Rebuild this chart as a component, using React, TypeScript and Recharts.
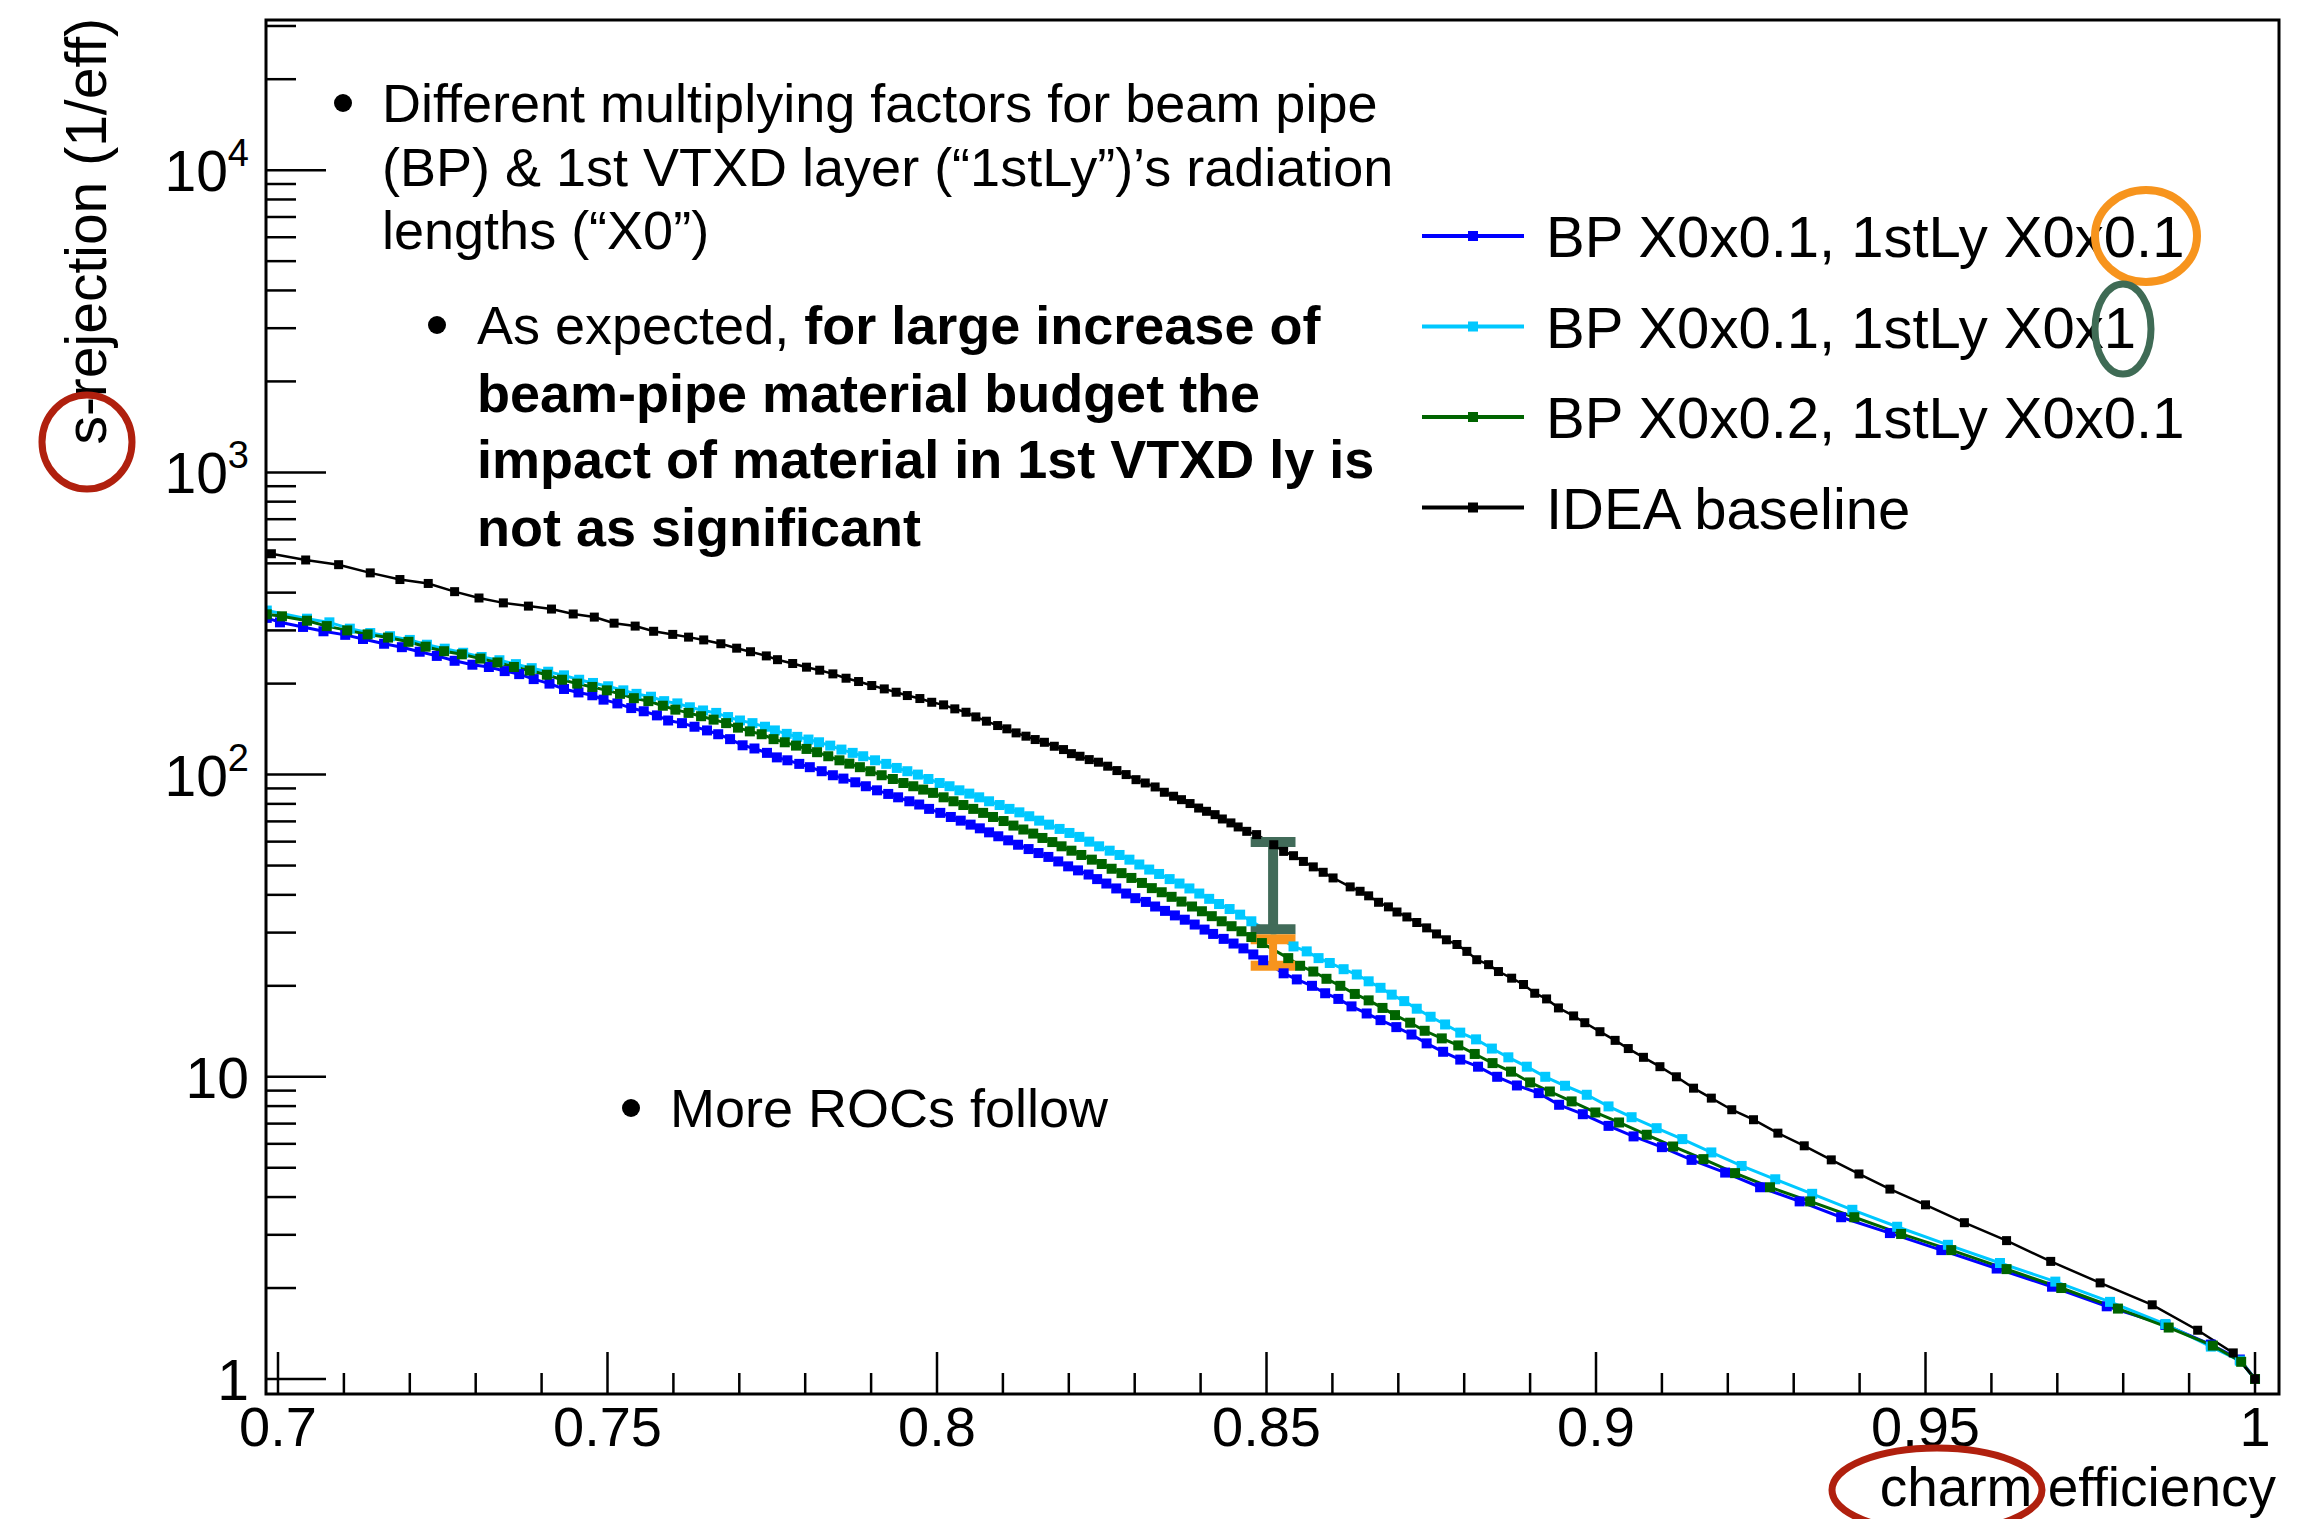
import React from "react";
import { LineChart, Line, XAxis, YAxis, Legend, ReferenceLine } from "recharts";

const W = 2316;
const H = 1519;
const FONT = "'Liberation Sans', Arial, Helvetica, sans-serif";

// ---- data (charm efficiency vs s-rejection) ----
const bp01Ly01Eff = [
  0.6983, 0.7003, 0.7038, 0.7069, 0.7102, 0.7129, 0.7161, 0.7188, 0.7215, 0.7241, 0.7268, 0.7295, 0.732,
  0.7344, 0.7366, 0.7388, 0.7412, 0.7434, 0.7456, 0.7477, 0.7494, 0.7515, 0.7536, 0.7555, 0.7575, 0.7592,
  0.7613, 0.7632, 0.7651, 0.7668, 0.7686, 0.7705, 0.7723, 0.7742, 0.7757, 0.7773, 0.7791, 0.7807, 0.7825,
  0.7842, 0.7858, 0.7876, 0.7892, 0.7909, 0.7926, 0.7941, 0.7958, 0.7973, 0.7988, 0.8005, 0.8021, 0.8036,
  0.8051, 0.8065, 0.8079, 0.8093, 0.8108, 0.8123, 0.8139, 0.8154, 0.8169, 0.8184, 0.8199, 0.8214, 0.823,
  0.8243, 0.8257, 0.8272, 0.8287, 0.8301, 0.8317, 0.8331, 0.8346, 0.8361, 0.8376, 0.8391, 0.8406, 0.8419,
  0.8435, 0.845, 0.8465, 0.848, 0.8495, 0.8526, 0.8546, 0.8569, 0.8589, 0.8609, 0.8629, 0.8652, 0.8673,
  0.8697, 0.872, 0.8743, 0.8768, 0.8794, 0.8821, 0.885, 0.888, 0.8913, 0.8944, 0.898, 0.9019, 0.9057, 0.91,
  0.9145, 0.9196, 0.9249, 0.9309, 0.9372, 0.9446, 0.9524, 0.9608, 0.9692, 0.9775, 0.9864, 0.9933, 0.9977, 1.0,
];
const bp01Ly01Rej = [
  330, 319, 308, 298, 290, 281, 271, 264, 255, 247, 238, 231, 227,
  220, 215, 207, 200, 192, 187, 183, 177, 172, 166, 162, 157, 151,
  148, 144, 140, 136, 131, 125, 122, 118, 114, 111.5, 108.5, 105.8, 102.6,
  99.5, 97.0, 94.3, 91.5, 88.7, 86.3, 84.1, 81.6, 79.6, 77.0, 74.7, 72.4, 70.4,
  68.3, 66.4, 64.4, 62.5, 60.6, 58.6, 56.7, 55.0, 53.4, 51.6, 49.7, 48.2, 46.7,
  45.1, 43.6, 42.0, 40.4, 39.0, 37.9, 36.6, 35.4, 34.2, 33.1, 31.9, 30.7, 29.7,
  28.6, 27.6, 26.6, 25.4, 24.3, 22.0, 21.0, 20.0, 18.9, 18.1, 17.1, 16.2, 15.4,
  14.6, 13.8, 12.9, 12.1, 11.4, 10.8, 10.0, 9.36, 8.83, 8.08, 7.52, 6.88, 6.35, 5.85,
  5.31, 4.82, 4.31, 3.87, 3.43, 3.04, 2.67, 2.32, 2.02, 1.74, 1.51, 1.3, 1.16, 1.0,
];

const bp01Ly1Eff = [
  0.6983, 0.7044, 0.7078, 0.7109, 0.714, 0.717, 0.72, 0.7226, 0.7253, 0.7281, 0.7309, 0.7336, 0.7361,
  0.7385, 0.741, 0.7434, 0.7457, 0.7478, 0.7501, 0.7524, 0.7544, 0.7566, 0.7586, 0.7606, 0.7625, 0.7645,
  0.7665, 0.7683, 0.7701, 0.772, 0.7739, 0.7754, 0.7772, 0.7788, 0.7805, 0.7821, 0.7838, 0.7855, 0.7872,
  0.7888, 0.7906, 0.7923, 0.7939, 0.7955, 0.7971, 0.7987, 0.8004, 0.8019, 0.8034, 0.8049, 0.8064, 0.8079,
  0.8095, 0.811, 0.8125, 0.814, 0.8155, 0.817, 0.8186, 0.8201, 0.8216, 0.8231, 0.8246, 0.8262, 0.8277,
  0.8292, 0.8307, 0.8322, 0.8337, 0.8353, 0.8368, 0.8383, 0.8398, 0.8413, 0.8428, 0.8444, 0.846, 0.8477,
  0.8541, 0.8561, 0.8579, 0.8596, 0.8617, 0.8637, 0.8655, 0.8673, 0.869, 0.8709, 0.8728, 0.8749, 0.8771,
  0.8794, 0.8818, 0.8842, 0.8867, 0.8895, 0.8923, 0.8953, 0.8986, 0.9019, 0.9054, 0.9092, 0.9131, 0.9175,
  0.9221, 0.9272, 0.9328, 0.9389, 0.9457, 0.9534, 0.9613, 0.9697, 0.978, 0.9864, 0.9933, 0.9977, 1.0,
];
const bp01Ly1Rej = [
  349, 328, 319, 304, 294, 287, 279, 269, 261, 253, 245, 239, 232,
  225, 219, 213, 206, 201, 196, 190, 185, 181, 175, 172, 167, 163,
  160, 155, 151, 148, 144, 140, 136.4, 133.3, 130.6, 127.9, 124.7, 121.0, 118.0,
  115.0, 111.5, 108.5, 105.2, 102.6, 100.0, 96.7, 93.8, 91.5, 88.7, 86.5, 84.1, 81.6,
  79.3, 77.0, 75.0, 72.8, 70.4, 68.3, 66.1, 64.1, 62.2, 60.0, 57.9, 56.0, 54.2,
  52.3, 50.4, 48.5, 46.9, 45.1, 43.6, 42.0, 40.4, 38.8, 37.3, 35.9, 34.4, 32.7,
  27.0, 26.0, 24.7, 23.8, 22.7, 21.8, 20.7, 19.7, 18.7, 17.8, 16.8, 15.8, 14.9,
  14.0, 13.3, 12.4, 11.6, 10.8, 10.0, 9.34, 8.72, 7.98, 7.35, 6.76, 6.22, 5.62,
  5.07, 4.58, 4.1, 3.63, 3.19, 2.78, 2.42, 2.1, 1.8, 1.52, 1.28, 1.15, 1.0,
];

const bp02Ly01Eff = [
  0.6983, 0.7006, 0.7044, 0.7074, 0.7105, 0.7136, 0.7167, 0.7198, 0.7224, 0.7252, 0.7279, 0.7307, 0.7333,
  0.7358, 0.7382, 0.7408, 0.7431, 0.7454, 0.7477, 0.7499, 0.7519, 0.754, 0.7562, 0.7584, 0.7603, 0.7623,
  0.7642, 0.7661, 0.768, 0.7698, 0.7716, 0.7734, 0.7752, 0.7769, 0.7786, 0.7802, 0.7818, 0.7835, 0.7852,
  0.7867, 0.7883, 0.7899, 0.7916, 0.7933, 0.7949, 0.7964, 0.7979, 0.7994, 0.801, 0.8025, 0.804, 0.8055,
  0.807, 0.8085, 0.8101, 0.8116, 0.8131, 0.8146, 0.816, 0.8175, 0.8189, 0.8204, 0.8219, 0.8235, 0.825,
  0.8265, 0.828, 0.8295, 0.8311, 0.8326, 0.8341, 0.8356, 0.8371, 0.8387, 0.8402, 0.8417, 0.8432, 0.8447,
  0.8462, 0.8477, 0.8493, 0.8533, 0.8551, 0.8571, 0.8591, 0.8612, 0.8634, 0.8655, 0.8676, 0.8695, 0.8718,
  0.874, 0.8766, 0.8791, 0.8816, 0.8843, 0.8871, 0.89, 0.893, 0.8963, 0.8999, 0.9035, 0.9077, 0.9117,
  0.9163, 0.9211, 0.9264, 0.9325, 0.9392, 0.9463, 0.9539, 0.9623, 0.9706, 0.9792, 0.9869, 0.9936, 0.9979, 1.0,
];
const bp02Ly01Rej = [
  339, 334, 323, 310, 300, 291, 284, 275, 265, 256, 250, 242, 235,
  227, 221, 214, 206, 200, 195, 190, 185, 179, 175, 169, 164, 160,
  156, 152, 148, 143, 139, 136, 131, 127.9, 124.7, 121.6, 118.6, 115.0, 111.5,
  108.7, 105.8, 102.6, 99.5, 96.7, 93.8, 91.5, 89.2, 87.0, 84.1, 81.6, 79.3, 77.0,
  74.7, 72.4, 70.2, 67.8, 65.8, 63.8, 61.7, 59.8, 57.9, 56.0, 54.2, 52.3, 50.6,
  48.8, 47.2, 45.5, 43.8, 42.1, 40.8, 39.4, 38.0, 36.6, 35.3, 34.0, 32.7, 31.5,
  30.3, 29.0, 27.7, 24.7, 23.3, 22.3, 21.1, 20.0, 18.8, 17.9, 16.9, 16.0, 15.1,
  14.2, 13.4, 12.7, 11.9, 11.1, 10.4, 9.58, 8.94, 8.29, 7.62, 7.06, 6.43, 5.88,
  5.34, 4.8, 4.31, 3.87, 3.43, 3.02, 2.67, 2.31, 2.0, 1.71, 1.48, 1.29, 1.14, 1.0,
];

const ideaEff = [
  0.699, 0.7042, 0.7092, 0.714, 0.7185, 0.7228, 0.7268, 0.7305, 0.7342, 0.738, 0.7415, 0.7448, 0.748,
  0.751, 0.7542, 0.757, 0.7599, 0.7623, 0.7646, 0.7672, 0.7696, 0.7717, 0.7741, 0.7758, 0.7781, 0.7802,
  0.7822, 0.7842, 0.7862, 0.7881, 0.7901, 0.792, 0.7938, 0.7955, 0.7974, 0.7992, 0.801, 0.8027, 0.8044,
  0.8059, 0.8075, 0.8092, 0.8106, 0.812, 0.8135, 0.8149, 0.8163, 0.8178, 0.8192, 0.8204, 0.8217, 0.8231,
  0.8245, 0.8259, 0.8273, 0.8287, 0.8302, 0.8316, 0.8331, 0.8345, 0.8359, 0.8371, 0.8384, 0.8397, 0.8409,
  0.8422, 0.8433, 0.8446, 0.8457, 0.847, 0.8485, 0.8511, 0.8526, 0.8541, 0.8556, 0.8571, 0.8586, 0.8601,
  0.8627, 0.8642, 0.8655, 0.867, 0.8685, 0.8698, 0.8713, 0.8728, 0.8743, 0.8758, 0.8773, 0.8789, 0.8804,
  0.8819, 0.8837, 0.8852, 0.8872, 0.889, 0.8907, 0.8925, 0.8943, 0.8966, 0.8983, 0.9006, 0.9029, 0.9049,
  0.9072, 0.9097, 0.9122, 0.9148, 0.9175, 0.9206, 0.9239, 0.9276, 0.9316, 0.9357, 0.9399, 0.9446, 0.95,
  0.9559, 0.9623, 0.969, 0.9765, 0.9844, 0.9913, 0.9967, 1.0,
];
const ideaRej = [
  538, 513, 495, 465, 442, 429, 403, 384, 370, 361, 353, 340, 332,
  317, 310, 298, 291, 285, 279, 271, 262, 255, 247, 240, 233.1, 226.7,
  221.5, 215.4, 208.4, 203.2, 197.1, 192.1, 187.3, 182.6, 178.5, 173.5, 170.1, 165.0, 160.8,
  155.2, 150.2, 145.3, 141.7, 137.4, 134.0, 130.6, 127.9, 124.1, 121.0, 117.3, 115.0, 112.1,
  109.9, 106.6, 103.1, 100.0, 96.2, 93.8, 91.0, 87.4, 84.8, 82.6, 80.2, 77.5, 75.6,
  73.7, 71.3, 69.2, 67.1, 64.9, 63.3, 58.6, 55.7, 53.9, 51.6, 49.5, 47.5, 45.5,
  42.5, 41.1, 39.7, 37.8, 36.5, 35.1, 33.8, 32.4, 31.1, 29.7, 28.4, 27.4, 26.0,
  24.4, 23.5, 22.3, 21.2, 20.2, 18.9, 18.1, 16.9, 15.9, 15.1, 14.1, 13.2, 12.4,
  11.6, 10.8, 10.0, 9.17, 8.5, 7.78, 7.21, 6.51, 5.91, 5.31, 4.77, 4.25, 3.77,
  3.29, 2.87, 2.45, 2.08, 1.76, 1.45, 1.22, 1.0,
];

const seriesNames = [
  "BP X0x0.1, 1stLy X0x0.1",
  "BP X0x0.1, 1stLy X0x1",
  "BP X0x0.2, 1stLy X0x0.1",
  "IDEA baseline",
];
const seriesColors = ["#0000ff", "#00c8ff", "#006400", "#000000"];

// axis ticks and labels
const xTicks = [
  0.7, 0.71, 0.72, 0.73, 0.74, 0.75, 0.76, 0.77, 0.78, 0.79, 0.8, 0.81, 0.82, 0.83, 0.84, 0.85,
  0.86, 0.87, 0.88, 0.89, 0.9, 0.91, 0.92, 0.93, 0.94, 0.95, 0.96, 0.97, 0.98, 0.99, 1.0,
];
const xMajorTicks = [0.7, 0.75, 0.8, 0.85, 0.9, 0.95, 1.0];
const xTickLabels = ["0.7", "0.75", "0.8", "0.85", "0.9", "0.95", "1"];
const yMajorTicks = [1, 10, 100, 1000, 10000];
const yMajorExponents = [0, 1, 2, 3, 4];
const yTicks = [
  ...[1, 10, 100, 1000].flatMap((d) => [1, 2, 3, 4, 5, 6, 7, 8, 9].map((m) => m * d)),
  10000, 20000, 30000,
];

// hand-drawn markers at eff = 0.85 on the slide
const markerEff = 0.851;
const markerCapHalf = 0.0034;
const ly1Span = [59.8, 30.8];
const bpSpan = [28.5, 23.3];

const toPoints = (eff: number[], rej: number[]) => eff.map((x, i) => ({ x, y: rej[i] }));

const series = [
  { name: seriesNames[0], color: seriesColors[0], data: toPoints(bp01Ly01Eff, bp01Ly01Rej), width: 3, size: 10 },
  { name: seriesNames[1], color: seriesColors[1], data: toPoints(bp01Ly1Eff, bp01Ly1Rej), width: 3, size: 10 },
  { name: seriesNames[2], color: seriesColors[2], data: toPoints(bp02Ly01Eff, bp02Ly01Rej), width: 3, size: 10 },
  { name: seriesNames[3], color: seriesColors[3], data: toPoints(ideaEff, ideaRej), width: 2.5, size: 9 },
];

const squareDot = (color: string, size: number) => (props: any) => {
  const { cx, cy, index } = props;
  if (cx == null || cy == null) return <g key={`e${index}`} />;
  return <rect key={`d${index}`} x={cx - size / 2} y={cy - size / 2} width={size} height={size} fill={color} />;
};

function XTick(props: any) {
  const { x, y, payload } = props;
  const idx = xMajorTicks.findIndex((t) => Math.abs(t - payload.value) < 1e-6);
  const major = idx >= 0;
  return (
    <g>
      <line x1={x} x2={x} y1={y} y2={y - (major ? 42 : 21)} stroke="#000" strokeWidth={2.5} />
      {major && (
        <text x={x} y={y + 52} textAnchor="middle" fontSize={56} fontFamily={FONT} fill="#000">
          {xTickLabels[idx]}
        </text>
      )}
    </g>
  );
}

function YTick(props: any) {
  const { x, y, payload } = props;
  const idx = yMajorTicks.findIndex((t) => Math.abs(t - payload.value) < 1e-6);
  const major = idx >= 0;
  const exp = major ? yMajorExponents[idx] : 0;
  return (
    <g>
      <line x1={x} x2={x + (major ? 60 : 30)} y1={y} y2={y} stroke="#000" strokeWidth={2.5} />
      {major && (
        <text x={x - 17} y={y + 21} textAnchor="end" fontSize={57} fontFamily={FONT} fill="#000">
          {exp === 0 ? "1" : "10"}
          {exp > 1 && (
            <tspan dy={-25} fontSize={38}>
              {exp}
            </tspan>
          )}
        </text>
      )}
    </g>
  );
}

function LegendBox() {
  return (
    <svg width={880} height={380} style={{ display: "block" }}>
      {series.map((s, i) => {
        const cy = 56 + i * 90.5;
        return (
          <g key={s.name}>
            <line x1={12} x2={114} y1={cy} y2={cy} stroke={s.color} strokeWidth={4} />
            <rect x={58} y={cy - 5} width={10} height={10} fill={s.color} />
            <text x={136} y={cy + 21} fontSize={58} fontFamily={FONT} fill="#000">
              {s.name}
            </text>
          </g>
        );
      })}
    </svg>
  );
}

function Overlay() {
  const txt = { fontFamily: FONT, fontSize: 54, fill: "#000" };
  return (
    <svg
      width={W}
      height={H}
      style={{ position: "absolute", left: 0, top: 0, pointerEvents: "none", zIndex: 5 }}
    >
      <rect x={266} y={20} width={2013} height={1374} fill="none" stroke="#000" strokeWidth={3} />

      <text transform="translate(106,18) rotate(-90)" textAnchor="end" fontSize={57} fontFamily={FONT}>
        s-rejection (1/eff)
      </text>
      <text x={2276} y={1506} textAnchor="end" fontSize={55} fontFamily={FONT}>
        charm efficiency
      </text>

      <circle cx={343} cy={103} r={9} fill="#000" />
      <text x={382} y={122} {...txt}>Different multiplying factors for beam pipe</text>
      <text x={382} y={186} {...txt}>(BP) &amp; 1st VTXD layer (“1stLy”)’s radiation</text>
      <text x={382} y={249} {...txt}>lengths (“X0”)</text>

      <circle cx={437} cy={325} r={9} fill="#000" />
      <text x={477} y={344} {...txt}>
        As expected, <tspan fontWeight={700}>for large increase of</tspan>
      </text>
      <text x={477} y={412} {...txt} fontWeight={700}>beam-pipe material budget the</text>
      <text x={477} y={478} {...txt} fontWeight={700}>impact of material in 1st VTXD ly is</text>
      <text x={477} y={546} {...txt} fontWeight={700}>not as significant</text>

      <circle cx={631} cy={1108} r={9} fill="#000" />
      <text x={670} y={1127} {...txt}>More ROCs follow</text>

      <ellipse cx={87} cy={442} rx={45} ry={47} fill="none" stroke="#b0200e" strokeWidth={7} />
      <ellipse cx={1937} cy={1490} rx={105} ry={42} fill="none" stroke="#b0200e" strokeWidth={7} />
      <ellipse cx={2146} cy={236} rx={51} ry={46} fill="none" stroke="#f7941d" strokeWidth={8} />
      <ellipse cx={2123} cy={329} rx={28} ry={45} fill="none" stroke="#3f6b55" strokeWidth={7} />
    </svg>
  );
}

export default function App() {
  return (
    <div style={{ position: "absolute", left: 0, top: 0, width: W, height: H, background: "#fff" }}>
      <LineChart width={W} height={H} margin={{ top: 20, right: 37, bottom: 0, left: 166 }}>
        <XAxis
          dataKey="x"
          type="number"
          domain={[0.69818, 1.00364]}
          allowDataOverflow
          ticks={xTicks}
          interval={0}
          height={125}
          tickSize={0}
          tickMargin={0}
          axisLine={false}
          tickLine={false}
          tick={<XTick />}
        />
        <YAxis
          dataKey="y"
          type="number"
          scale="log"
          domain={[0.892, 31400]}
          allowDataOverflow
          ticks={yTicks}
          interval={0}
          width={100}
          tickSize={0}
          tickMargin={0}
          axisLine={false}
          tickLine={false}
          tick={<YTick />}
        />
        {series.map((s) => (
          <Line
            key={s.name}
            data={s.data}
            dataKey="y"
            name={s.name}
            type="linear"
            stroke={s.color}
            strokeWidth={s.width}
            dot={squareDot(s.color, s.size)}
            activeDot={false}
            isAnimationActive={false}
          />
        ))}
        <ReferenceLine
          segment={[{ x: markerEff, y: ly1Span[0] }, { x: markerEff, y: ly1Span[1] }]}
          stroke="#416b59"
          strokeWidth={10}
        />
        <ReferenceLine
          segment={[{ x: markerEff - markerCapHalf, y: ly1Span[0] }, { x: markerEff + markerCapHalf, y: ly1Span[0] }]}
          stroke="#416b59"
          strokeWidth={10}
        />
        <ReferenceLine
          segment={[{ x: markerEff - markerCapHalf, y: ly1Span[1] }, { x: markerEff + markerCapHalf, y: ly1Span[1] }]}
          stroke="#416b59"
          strokeWidth={10}
        />
        <ReferenceLine
          segment={[{ x: markerEff, y: bpSpan[0] }, { x: markerEff, y: bpSpan[1] }]}
          stroke="#f7941d"
          strokeWidth={8}
        />
        <ReferenceLine
          segment={[{ x: markerEff - markerCapHalf, y: bpSpan[0] }, { x: markerEff + markerCapHalf, y: bpSpan[0] }]}
          stroke="#f7941d"
          strokeWidth={10}
        />
        <ReferenceLine
          segment={[{ x: markerEff - markerCapHalf, y: bpSpan[1] }, { x: markerEff + markerCapHalf, y: bpSpan[1] }]}
          stroke="#f7941d"
          strokeWidth={10}
        />
        <Legend
          layout="vertical"
          align="center"
          verticalAlign="middle"
          content={() => <LegendBox />}
          wrapperStyle={{ position: "absolute", left: 1410, top: 180, width: 880, height: 380 }}
        />
      </LineChart>
      <Overlay />
    </div>
  );
}
